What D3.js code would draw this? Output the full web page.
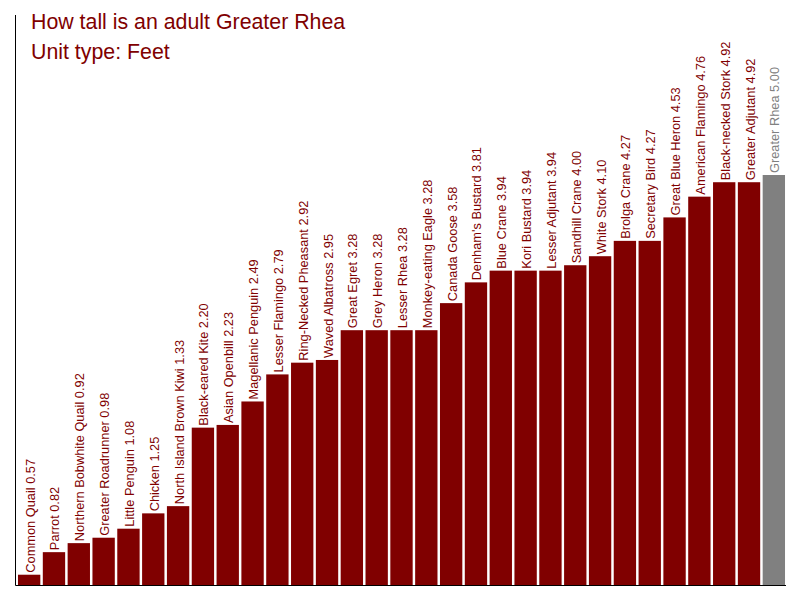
<!DOCTYPE html>
<html>
<head>
<meta charset="utf-8">
<script src="https://cdn.jsdelivr.net/npm/d3@7"></script>
<style>
  body { margin: 0; background: #fff; }
  svg { display: block; font-family: "Liberation Sans", Arial, sans-serif; }
</style>
</head>
<body>
<svg id="chart" width="800" height="600"></svg>
<script>
// Bird heights in feet
const birds = [
  "Common Quail", "Parrot", "Northern Bobwhite Quail", "Greater Roadrunner",
  "Little Penguin", "Chicken", "North Island Brown Kiwi", "Black-eared Kite",
  "Asian Openbill", "Magellanic Penguin", "Lesser Flamingo", "Ring-Necked Pheasant",
  "Waved Albatross", "Great Egret", "Grey Heron", "Lesser Rhea",
  "Monkey-eating Eagle", "Canada Goose", "Denham's Bustard", "Blue Crane",
  "Kori Bustard", "Lesser Adjutant", "Sandhill Crane", "White Stork",
  "Brolga Crane", "Secretary Bird", "Great Blue Heron", "American Flamingo",
  "Black-necked Stork", "Greater Adjutant", "Greater Rhea"
];
const heights = [
  0.57, 0.82, 0.92, 0.98,
  1.08, 1.25, 1.33, 2.20,
  2.23, 2.49, 2.79, 2.92,
  2.95, 3.28, 3.28, 3.28,
  3.28, 3.58, 3.81, 3.94,
  3.94, 3.94, 4.00, 4.10,
  4.27, 4.27, 4.53, 4.76,
  4.92, 4.92, 5.00
];
const highlight = "Greater Rhea";
const titleLines = ["How tall is an adult Greater Rhea", "Unit type: Feet"];

const data = birds.map((name, i) => ({ name, value: heights[i] }));

const svg = d3.select("#chart");
const baseY = 585;
const left = 15.5;

const x = d3.scaleBand()
  .domain(birds)
  .range([left, 787.5])
  .padding(0.1);

const y = d3.scaleLinear()
  .domain([d3.min(heights) * 0.8, d3.max(heights)])
  .range([baseY, 175]);

const dark = "#800000";
const grey = "#808080";
const colorOf = d => d.name === highlight ? grey : dark;

// bars
svg.append("g")
  .selectAll("rect")
  .data(data)
  .join("rect")
  .attr("x", d => x(d.name))
  .attr("y", d => y(d.value))
  .attr("width", x.bandwidth())
  .attr("height", d => baseY - y(d.value))
  .attr("fill", colorOf);

// value labels, rotated above each bar
svg.append("g")
  .selectAll("text")
  .data(data)
  .join("text")
  .attr("transform", d => `translate(${x(d.name) + x.bandwidth() / 2 + 5.5},${y(d.value) - 2}) rotate(-90)`)
  .attr("font-size", "12.8px")
  .attr("fill", colorOf)
  .text(d => `${d.name} ${d.value.toFixed(2)}`);

// axes lines
svg.append("line")
  .attr("x1", left).attr("x2", left)
  .attr("y1", 15).attr("y2", baseY + 0.5)
  .attr("stroke", "#000");
svg.append("line")
  .attr("x1", left).attr("x2", 786)
  .attr("y1", baseY + 0.5).attr("y2", baseY + 0.5)
  .attr("stroke", "#000");

// title
svg.append("g")
  .selectAll("text")
  .data(titleLines)
  .join("text")
  .attr("x", 31)
  .attr("y", (d, i) => 29 + i * 30)
  .attr("font-size", "21.33px")
  .attr("fill", dark)
  .text(d => d);
</script>
</body>
</html>
